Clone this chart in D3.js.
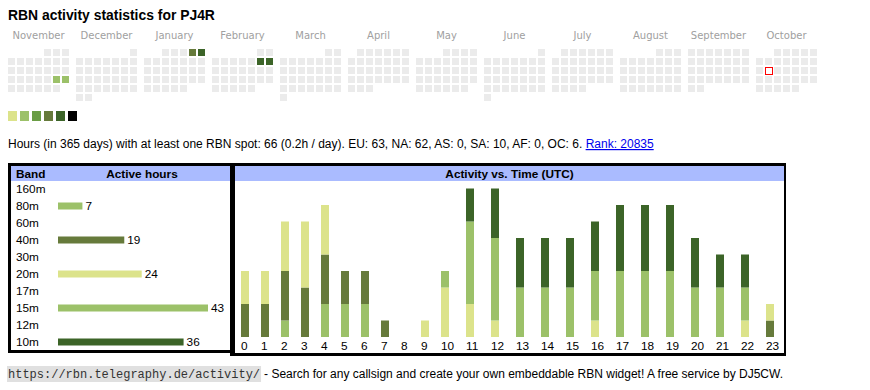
<!DOCTYPE html>
<html><head><meta charset="utf-8">
<script src="https://cdn.jsdelivr.net/npm/d3@7"></script>
<style>
body{margin:0;background:#fff;}
svg{display:block;font-family:"Liberation Sans",Arial,sans-serif;}
</style></head><body>
<svg id="c" width="870" height="390"></svg>
<script>
// ---------- data ----------
const title = "RBN activity statistics for PJ4R";
const calendarMonths = ["2024-11","2024-12","2025-01","2025-02","2025-03","2025-04","2025-05","2025-06","2025-07","2025-08","2025-09","2025-10"];
const monthLabels = ["November","December","January","February","March","April","May","June","July","August","September","October"];
const activeDays = ["2024-11-23","2024-11-24","2025-01-04","2025-01-05","2025-02-08","2025-02-09"];
const activeLevels = [1,1,3,4,4,4];
const today = "2025-10-14";
const levelColors = ["#dce38b","#9cc169","#6a9d45","#667a3b","#3c6428","#000000"];

const statsText = "Hours (in 365 days) with at least one RBN spot: 66 (0.2h / day). EU: 63, NA: 62, AS: 0, SA: 10, AF: 0, OC: 6. ";
const rankText = "Rank: 20835";

const bands = ["160m","80m","60m","40m","30m","20m","17m","15m","12m","10m"];
const bandHours = [0,7,0,19,0,24,0,43,0,36];
const bandColors = ["#b0b0b0","#9cc169","#b0b0b0","#667a3b","#b0b0b0","#dce38b","#b0b0b0","#9cc169","#b0b0b0","#3c6428"];

const hourLabels = ["0","1","2","3","4","5","6","7","8","9","10","11","12","13","14","15","16","17","18","19","20","21","22","23"];
const stackBands = ["80m","40m","20m","15m","10m"];
const hours80 = [0,0,1,0,2,2,2,0,0,0,0,0,0,0,0,0,0,0,0,0,0,0,0,0];
const hours40 = [2,2,3,3,3,2,2,1,0,0,0,0,0,0,0,0,0,0,0,0,0,0,0,1];
const hours20 = [2,2,3,4,3,0,0,0,0,1,3,2,1,0,0,0,1,0,0,0,0,0,1,1];
const hours15 = [0,0,0,0,0,0,0,0,0,0,1,5,5,3,3,3,3,4,4,4,3,3,2,0];
const hours10 = [0,0,0,0,0,0,0,0,0,0,0,2,3,3,3,3,3,4,4,4,3,2,2,0];

const footerUrl = "https://rbn.telegraphy.de/activity/";
const footerText = "- Search for any callsign and create your own embeddable RBN widget! A free service by DJ5CW.";

// ---------- drawing ----------
const svg = d3.select("#c");
const FS = 11.8;

svg.append("text").attr("x",8).attr("y",20).attr("font-weight","bold")
  .attr("font-size",13.9).attr("fill","#000").text(title);

// calendar
const parse = d3.timeParse("%Y-%m-%d");
const fmt = d3.timeFormat("%Y-%m-%d");
const levelByDay = new Map(activeDays.map((d,i)=>[d,activeLevels[i]]));
const monthX = d3.scaleBand().domain(calendarMonths).range([8, 8+68*12]);
const colX = d3.scaleBand().domain(d3.range(7)).range([0,63]);
const rowY = d3.scaleBand().domain(d3.range(6)).range([49,103]);

const cal = svg.append("g");
calendarMonths.forEach((m,mi)=>{
  const start = parse(m+"-01");
  const days = d3.timeDay.range(start, d3.timeMonth.offset(start,1));
  const off = (start.getDay()+6)%7;
  cal.append("text").attr("x", monthX(m)+30.5).attr("y",39)
    .attr("text-anchor","middle").attr("font-family","'DejaVu Sans',Verdana,sans-serif")
    .attr("font-size",10).attr("fill","#a0a0a0").text(monthLabels[mi]);
  cal.selectAll(null).data(days).enter().append("rect")
    .attr("x", d=>monthX(m)+colX((d.getDate()-1+off)%7) + (fmt(d)===today?0.5:0))
    .attr("y", d=>rowY(Math.floor((d.getDate()-1+off)/7)) + (fmt(d)===today?0.5:0))
    .attr("width",7)
    .attr("height",7)
    .attr("fill", d=> fmt(d)===today ? "#fff" : (levelByDay.has(fmt(d)) ? levelColors[levelByDay.get(fmt(d))] : "#ebebeb"))
    .attr("stroke", d=> fmt(d)===today ? "#ff0000" : "none")
    .attr("stroke-width",1);
});

// legend
const legX = d3.scaleBand().domain(d3.range(levelColors.length)).range([8, 8+12*levelColors.length]);
svg.append("g").selectAll("rect").data(levelColors).enter().append("rect")
  .attr("x",(d,i)=>legX(i)).attr("y",111).attr("width",9).attr("height",10).attr("fill",d=>d);

// stats line
const st = svg.append("text").attr("x",8).attr("y",148).attr("font-size",12).attr("fill","#000")
  .style("white-space","pre");
st.append("tspan").text(statsText);
st.append("tspan").attr("fill","#0000ee").style("text-decoration","underline").text(rankText);

// boxes
function box(x0,y0,x1,y1,ix0,iy0,ix1,iy1){
  svg.append("rect").attr("x",x0).attr("y",y0).attr("width",x1-x0).attr("height",y1-y0).attr("fill","#000");
  svg.append("rect").attr("x",ix0).attr("y",iy0).attr("width",ix1-ix0).attr("height",iy1-iy0).attr("fill","#fff");
  svg.append("rect").attr("x",ix0).attr("y",iy0).attr("width",ix1-ix0).attr("height",15).attr("fill","#aabbff");
}
box(8,163,232,353, 11,166,230,350);
box(230,163,786,356, 235,166,784,353);

// band table
svg.append("text").attr("x",16).attr("y",177.5).attr("font-size",FS).attr("font-weight","bold").text("Band");
svg.append("text").attr("x",142).attr("y",177.5).attr("font-size",FS).attr("font-weight","bold")
  .attr("text-anchor","middle").text("Active hours");
const bandY = d3.scaleBand().domain(bands).range([180.5,350.5]);
const barX = d3.scaleLinear().domain([0, d3.max(bandHours)]).range([58, 208]);
const bt = svg.append("g");
bands.forEach((b,i)=>{
  const cy = bandY(b)+bandY.bandwidth()/2;
  bt.append("text").attr("x",16).attr("y",cy+4).attr("font-size",FS).text(b);
  if(bandHours[i]>0){
    bt.append("rect").attr("x",barX(0)).attr("y",cy-3.5).attr("width",barX(bandHours[i])-barX(0))
      .attr("height",7).attr("fill",bandColors[i]);
    bt.append("text").attr("x",barX(bandHours[i])+3).attr("y",cy+4).attr("font-size",FS).text(bandHours[i]);
  }
});

// activity chart
svg.append("text").attr("x",509.5).attr("y",177.5).attr("font-size",FS).attr("font-weight","bold")
  .attr("text-anchor","middle").text("Activity vs. Time (UTC)");
const weights = hourLabels.map(l=>l.length+3);
const starts = [0, ...d3.cumsum(weights)].slice(0, weights.length);
const xLin = d3.scaleLinear().domain([0, d3.sum(weights)]).range([235, 785]);
const xHour = d3.scaleOrdinal().domain(hourLabels).range(starts.map(s=>xLin(s)+6));
const yAct = d3.scaleLinear().domain([0,9]).range([337,188.5]);
const series = {"80m":hours80,"40m":hours40,"20m":hours20,"15m":hours15,"10m":hours10};
const rows = hourLabels.map((h,i)=>{ const r={hour:h}; stackBands.forEach(b=>r[b]=series[b][i]); return r; });
const stacked = d3.stack().keys(stackBands)(rows);
const colorOf = b => bandColors[bands.indexOf(b)];
svg.append("g").selectAll("g").data(stacked).enter().append("g")
  .attr("fill", s=>colorOf(s.key))
  .selectAll("rect").data(s=>s.filter(d=>d[1]>d[0])).enter().append("rect")
  .attr("x", d=>xHour(d.data.hour)).attr("width",8)
  .attr("y", d=>yAct(d[1])).attr("height", d=>yAct(d[0])-yAct(d[1]));

const ax = svg.append("g").attr("transform","translate(-0.5,341.6)")
  .call(d3.axisBottom(xHour).tickSize(0).tickPadding(0));
ax.select(".domain").remove();
ax.selectAll("text").attr("text-anchor","start").attr("font-size",FS)
  .attr("font-family","'Liberation Sans',Arial,sans-serif").attr("fill","#000");

// footer
const url = svg.append("text").attr("x",8).attr("y",378).attr("font-family","'Liberation Mono','Courier New',monospace")
  .attr("font-size",12).attr("fill","#333").text(footerUrl);
const uw = url.node().getComputedTextLength();
svg.insert("rect","text").attr("x",7).attr("y",366).attr("width",uw+2).attr("height",16).attr("fill","#e0e0e0");
svg.append("text").attr("x",8+uw+4).attr("y",378).attr("font-size",12).attr("fill","#000").text(footerText);
</script>
</body></html>
